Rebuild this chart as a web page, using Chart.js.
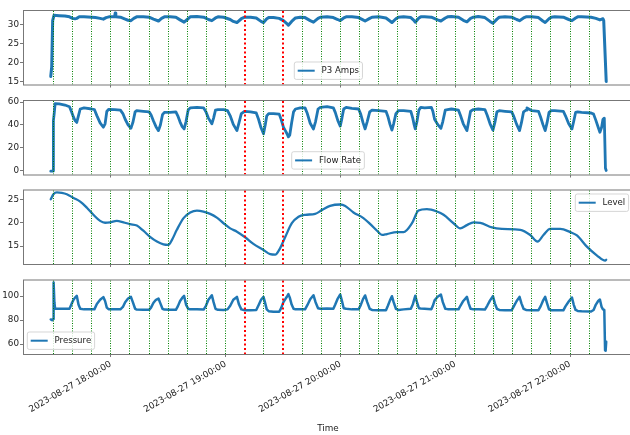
<!DOCTYPE html>
<html>
<head>
<meta charset="utf-8">
<title>Pump P3 trend</title>
<script src="https://cdn.jsdelivr.net/npm/chart.js@4/dist/chart.umd.min.js"></script>
<style>
  html, body { margin: 0; padding: 0; background: #fff; overflow: hidden; }
  #wrap { position: relative; width: 630px; height: 435px; overflow: hidden; background: #fff; }
  #wrap canvas { position: absolute; left: 0; top: 0; }
</style>
</head>
<body>
<div id="wrap">
  <canvas id="amps" width="640" height="435"></canvas>
  <canvas id="flow" width="640" height="435"></canvas>
  <canvas id="level" width="640" height="435"></canvas>
  <canvas id="pressure" width="640" height="435"></canvas>
</div>
<script>
// Time is expressed in minutes after 17:00 on 2023-08-27.
const hourTicks = [60, 120, 180, 240, 300];
const hourLabels = ['2023-08-27 18:00:00', '2023-08-27 19:00:00', '2023-08-27 20:00:00',
                    '2023-08-27 21:00:00', '2023-08-27 22:00:00'];

// 10-minute markers (green) and the two flagged instants (red)
const greenMarks = [30, 40, 50, 60, 70, 80, 90, 100, 110, 120, 140, 160, 170, 180, 190, 200,
                    210, 220, 230, 240, 250, 260, 270, 280, 290, 300, 310];
const redMarks = [130, 150];

// P3 Amps
const ampsTime = [28.6, 29.1, 29.6, 30.3,
  33, 36, 38.4, 40.0, 41.3, 42.2, 43.5,
  46, 50, 52, 54.4, 56.1, 57.5, 59,
  62.0, 62.3, 62.6,
  65, 67.5, 69, 70.5, 72, 73.5,
  77, 80, 82.3, 84.9, 86.5, 88,
  91, 94, 96.2, 98.3, 100.4, 101.5,
  105, 108.5, 111, 112.8, 114.7, 116,
  119, 122.4, 124, 125.9, 128.2, 130,
  133, 136, 138.5, 139.8, 141.5, 142.5,
  145, 148, 150.2, 152, 152.8, 154.5, 156.5,
  159, 161.5, 164.2, 165.9, 168.3, 169.5,
  173, 176.3, 178.6, 179.9, 181.7, 183,
  186, 189.5, 191.8, 192.9, 195.3, 196.5,
  200, 203.8, 205.9, 206.9, 209, 210.3,
  213, 216.8, 218.4, 219.1, 221, 222,
  224, 227.5, 230.8, 232.5, 234.8, 236,
  238, 241.7, 244.2, 246.1, 248, 249.5,
  252, 255.5, 258.2, 259.7, 261.8, 263,
  266, 269.5, 272.1, 273.6, 275.7, 277,
  280, 283.5, 285.8, 287, 289, 290.2,
  292, 296.5, 299.3, 301, 302.9, 304,
  306, 311, 313.5, 315.6, 317.2, 317.6, 318.9];
const ampsValue = [16.3, 18.8, 31.0, 32.4,
  32.3, 32.2, 32.0, 31.6, 31.5, 31.6, 32.0,
  32.0, 31.9, 31.8, 31.6, 31.4, 31.8, 32.0,
  32.0, 33.0, 32.0,
  31.9, 31.4, 31.1, 31.0, 31.6, 32.0,
  32.0, 31.9, 31.4, 30.9, 31.6, 32.0,
  32.0, 31.9, 31.2, 30.6, 31.5, 32.0,
  32.1, 31.9, 31.3, 31.0, 31.7, 32.0,
  31.9, 31.3, 30.8, 30.5, 31.5, 31.9,
  31.9, 31.7, 30.8, 30.5, 31.5, 31.8,
  31.8, 31.6, 31.0, 30.2, 29.8, 30.8, 31.7,
  31.9, 31.8, 31.0, 30.6, 31.6, 31.9,
  32.0, 31.8, 31.3, 31.0, 31.7, 32.0,
  32.0, 31.8, 31.2, 30.9, 31.6, 31.9,
  32.0, 31.7, 30.9, 30.5, 31.5, 31.9,
  32.0, 31.8, 31.1, 30.6, 31.7, 32.0,
  32.0, 31.9, 31.2, 30.9, 31.7, 32.0,
  32.1, 31.9, 31.1, 30.7, 31.6, 31.9,
  32.1, 31.8, 30.8, 30.3, 31.4, 31.9,
  32.0, 31.9, 31.3, 31.0, 31.7, 32.0,
  32.0, 31.8, 30.9, 30.5, 31.5, 31.9,
  32.0, 31.9, 31.3, 31.0, 31.7, 32.0,
  32.0, 31.9, 31.6, 31.2, 31.5, 31.0, 15.0];

// Flow Rate
const flowTime = [28.6, 29.8, 30.0, 30.4, 30.9, 33, 36, 38.4, 39.6, 40.5, 41.3, 42.2, 43.1, 44.0,
  46, 50, 51.4, 52.7, 54.4, 56.1, 57.0, 57.9, 58.8,
  62, 65, 66.3, 67.5, 69, 70.5, 71.5, 72.7, 73.5,
  77, 80, 81, 82.3, 83.6, 84.9, 85.9, 87, 88,
  91, 94, 95, 96.2, 97.3, 98.3, 99.3, 100.4, 101.5,
  105, 108.5, 109.7, 111, 112.8, 113.7, 114.7, 116,
  119, 121, 122.4, 124, 125.9, 127, 128.2, 130,
  133, 136, 137.2, 138.5, 139.8, 140.7, 141.5, 142.5,
  145, 148, 149, 150.2, 151.2, 152, 152.8, 153.5, 154.5, 155.5, 156.5,
  159, 161.5, 162.7, 164.2, 165.9, 167, 168.3, 169.5,
  173, 176.3, 177.3, 178.6, 179.9, 180.8, 181.7, 183,
  186, 189.5, 190.6, 191.8, 192.9, 194, 195.3, 196.5,
  200, 203.8, 204.8, 205.9, 206.9, 207.8, 209, 210.3,
  213, 216.8, 217.8, 218.4, 219.1, 220, 221, 222,
  224, 227.5, 228.3, 229.2, 230.8, 232.5, 233.5, 234.8, 236,
  238, 241.7, 242.7, 244.2, 246.1, 247, 248, 249.5,
  252, 255.5, 256.7, 258.2, 259.7, 260.7, 261.8, 263,
  266, 269.5, 270.6, 272.1, 273.6, 274.6, 275.7, 277,
  277.5, 280, 283.5, 284.6, 285.8, 287, 288, 289, 290.2,
  292, 296.5, 297.6, 299.3, 301, 301.9, 302.9, 304,
  306, 311, 312.3, 313.5, 314.7, 315.6, 316.5, 317.2, 317.9, 318.5, 318.9];
const flowValue = [-0.6, -0.5, 44, 50, 58.8, 58.5, 57.5, 56, 51, 46.8, 43.9, 42.2, 48.2, 54,
  55, 54, 53.5, 48.2, 41.8, 38, 41, 51.8, 53.6,
  53.5, 53, 50, 45, 40, 37.1, 42, 51.5, 52.5,
  52, 51.5, 49, 43.5, 38.5, 35, 40, 49, 51,
  51, 51.5, 48, 42.5, 38.5, 36.5, 43, 53, 55,
  55.5, 55, 51.5, 46, 41, 46, 53, 53.5,
  53.5, 52.5, 48, 40.5, 35, 42, 50, 52,
  51.5, 50.5, 45, 37.5, 32.2, 40, 48, 50,
  50, 49.5, 45, 38, 35, 32.5, 29.5, 31, 42, 51.5, 54,
  55, 55, 50, 41.5, 36.5, 43, 54, 55.5,
  56, 55, 51, 44, 39, 46, 54, 55.5,
  54.5, 54, 49.5, 42, 36.5, 43, 51.5, 53,
  52.5, 52, 47.5, 40.5, 35.5, 41, 50, 52.5,
  52.5, 52, 46, 41, 36.5, 43, 53, 55.5,
  55, 55.5, 52, 45, 40.5, 37, 43, 53, 53.5,
  54, 53, 48.5, 41, 35, 43, 52, 53.5,
  54, 53.5, 48.5, 41, 35.5, 42, 51.5, 52.5,
  52, 51.5, 47.5, 40.5, 35, 42, 51.5, 53,
  55, 52.5, 52, 47, 40.5, 35, 42, 51, 52.5,
  52.5, 52, 48, 41, 36.5, 43, 51, 51.5,
  51, 50.5, 49.5, 44, 38, 33.6, 38, 45, 46, 2, 0];

// Level
const levelTime = [28.6, 30.0, 31.8, 34.4, 37.0, 40.5, 44.0, 47.5, 50.9, 54.4,
  57.0, 59.6, 63.1, 66.6, 70.1, 73.6, 77.0, 80.5, 84.1, 87.5,
  90.1, 91.9, 94.5, 98.0, 101.5, 105.0, 108.4, 111.9, 115.4, 118.9,
  122.4, 125.9, 130.2, 134.5, 139.8, 143.3, 145.9, 148.5, 151.2, 154.6,
  158.1, 161.6, 166.8, 170.3, 174.6, 179.9, 182.5, 186.8, 192.0, 195.6,
  199.1, 201.7, 204.3, 209.5, 213.0, 217.4, 220.8, 225.2, 230.4, 233.9,
  239.1, 242.6, 246.1, 249.6, 253.1, 259.2, 264.4, 274.0, 279.2, 283.0,
  286.1, 289.6, 294.9, 300.1, 303.6, 308.8, 314.1, 318.4, 318.9];
const levelValue = [25.0, 26.1, 26.5, 26.4, 26.1, 25.3, 24.5, 23.2, 21.7, 20.4,
  20.0, 20.1, 20.4, 20.1, 19.7, 19.4, 18.3, 17.0, 16.0, 15.4,
  15.3, 16.3, 18.5, 21.0, 22.2, 22.6, 22.4, 21.9, 21.1, 19.9,
  18.8, 18.1, 16.9, 15.5, 14.2, 13.3, 13.2, 14.6, 17.0, 19.9,
  21.3, 21.7, 21.9, 22.7, 23.6, 23.9, 23.6, 22.2, 21.0, 19.7,
  18.3, 17.4, 17.6, 18.0, 18.0, 19.9, 22.6, 22.9, 22.4, 21.7,
  19.9, 18.8, 19.5, 20.1, 20.0, 19.0, 18.7, 18.5, 17.4, 16.0,
  17.4, 18.7, 18.7, 18.0, 17.3, 14.9, 13.0, 11.9, 12.1];

// Pressure
const pressureTime = [28.6, 29.3, 29.8, 30.1, 30.5, 30.9, 35, 38.4, 39.6, 40.5, 41.3, 42.2, 43.1, 44.0,
  46, 50, 51.4, 52.7, 54.4, 56.1, 57.0, 57.9, 58.8,
  62, 65, 66.3, 67.5, 69, 70.5, 71.5, 72.7, 73.5,
  77, 80, 81, 82.3, 83.6, 84.9, 85.9, 87, 88,
  91, 94, 95, 96.2, 97.3, 98.3, 99.3, 100.4, 101.5,
  105, 108.5, 109.7, 111, 112.8, 113.7, 114.7, 116,
  119, 121, 122.4, 124, 125.9, 127, 128.2, 130,
  133, 136, 137.2, 138.5, 139.8, 140.7, 141.5, 142.5,
  145, 148, 149, 150.2, 151.2, 152, 152.8, 153.5, 154.5, 155.5, 156.5,
  159, 161.5, 162.7, 164.2, 165.9, 167, 168.3, 169.5,
  173, 176.3, 177.3, 178.6, 179.9, 180.8, 181.7, 183,
  186, 189.5, 190.6, 191.8, 192.9, 194, 195.3, 196.5,
  200, 203.8, 204.8, 205.9, 206.9, 207.8, 209, 210.3,
  213, 216.8, 217.8, 218.4, 219.1, 220, 221, 222,
  224, 227.5, 228.3, 229.2, 230.8, 232.5, 233.5, 234.8, 236,
  238, 241.7, 242.7, 244.2, 246.1, 247, 248, 249.5,
  252, 255.5, 256.7, 258.2, 259.7, 260.7, 261.8, 263,
  266, 269.5, 270.6, 272.1, 273.6, 274.6, 275.7, 277,
  280, 283.5, 284.6, 285.8, 287, 288, 289, 290.2,
  292, 296.5, 297.6, 299.3, 301, 301.9, 302.9, 304,
  306, 311, 312.3, 313.5, 314.7, 315.6, 316.5, 317.2, 317.9, 318.3, 318.6, 318.9];
const pressureValue = [80.6, 80.0, 81, 111.5, 95, 89.5, 89.5, 89.5, 94, 97, 98.8, 100.3, 93, 89.5,
  89, 89, 89, 93.5, 97, 99.2, 96, 90.5, 89.2,
  89, 89, 91, 95, 98, 99.4, 95, 89.5, 88.8,
  88.6, 88.6, 90.5, 94.5, 97, 98, 94, 89.5, 88.8,
  88.6, 88.6, 91.5, 96, 98.5, 100.2, 93, 89.5, 89,
  89, 88.8, 92, 97, 100.8, 95, 89.5, 88.6,
  88.5, 89, 92, 97, 99.4, 93, 89, 88.3,
  88.3, 88.5, 92.5, 97, 99.4, 94, 89, 87.5,
  87, 87, 90, 95, 97.5, 99.5, 101.7, 99, 93, 89.5, 89,
  89, 89, 92.5, 97.5, 100.8, 95, 90, 89.5,
  89.7, 89.5, 93, 98, 101.4, 96, 90, 89.5,
  89, 89, 92.5, 97.5, 100.6, 95, 89.5, 88.5,
  88.3, 88.3, 92, 96.5, 100, 95, 89.5, 88.5,
  89, 89.5, 93, 96.5, 100.3, 95, 90, 89.7,
  89.5, 89.2, 92, 96.5, 99.5, 101.4, 95, 89.5, 89.2,
  89.2, 89, 92, 96, 99.4, 94, 89.5, 89,
  89, 88.8, 92, 96.5, 100, 94, 89.5, 88.5,
  88.3, 88.3, 91.5, 96, 99.4, 94, 89.5, 88.5,
  88.3, 88.3, 91.5, 96, 99.4, 94, 89, 88.3,
  88.2, 88.2, 91.5, 95.5, 98.9, 93, 88.5, 87.7,
  87.5, 87.2, 88.5, 93, 96, 97.2, 91, 89, 88.5, 55, 54.5, 62];

// y-axis tick values per panel
const ampsTicks = [15, 20, 25, 30];
const flowTicks = [0, 20, 40, 60];
const levelTicks = [15, 20, 25];
const pressureTicks = [60, 80, 100];

const BLUE = '#1f77b4';
const AXIS = '#777777';
const TEXT = '#222222';
const FONT = 'DejaVu Sans';
const TICK_SIZE = 8.8;
const X_MIN = 14.1, X_MAX = 332.9;
const PLOT_LEFT = 23, PLOT_RIGHT = 633, CANVAS_W = 640, CANVAS_H = 435;

Chart.defaults.font.family = FONT;
Chart.defaults.font.size = TICK_SIZE;

// Frame, time markers and an in-axes legend for each panel
const panelPlugin = {
  id: 'panel',
  afterDatasetsDraw(chart, args, opts) {
    const { ctx, chartArea: a } = chart;
    const xs = chart.scales.x;

    ctx.save();
    ctx.beginPath();
    ctx.rect(a.left, a.top, a.right - a.left, a.bottom - a.top);
    ctx.clip();
    const vlines = (list, color, width, dash) => {
      ctx.strokeStyle = color;
      ctx.lineWidth = width;
      ctx.setLineDash(dash);
      list.forEach(t => {
        const raw = xs.getPixelForValue(t);
        const px = width % 2 === 1 ? Math.floor(raw) + 0.5 : Math.round(raw);
        ctx.beginPath();
        ctx.moveTo(px, a.top + 1);
        ctx.lineTo(px, a.bottom);
        ctx.stroke();
      });
    };
    vlines(greenMarks, '#008000', 1, [1, 1.5]);
    vlines(redMarks, '#ff0000', 2, [2, 2.5]);
    ctx.restore();

    ctx.save();
    ctx.strokeStyle = AXIS;
    ctx.lineWidth = 1;
    ctx.strokeRect(a.left + 0.5, a.top + 0.5, a.right - a.left, a.bottom - a.top);
    ctx.restore();

    const ds = chart.data.datasets[0];
    ctx.save();
    ctx.font = '8.6px "' + FONT + '"';
    const tw = ctx.measureText(ds.label).width;
    const [bx, by] = opts.at;
    const w = 3.4 + 17 + 6.8 + tw + 3.4, h = 17.4, r = 2;
    ctx.beginPath();
    ctx.moveTo(bx + r, by);
    ctx.arcTo(bx + w, by, bx + w, by + h, r);
    ctx.arcTo(bx + w, by + h, bx, by + h, r);
    ctx.arcTo(bx, by + h, bx, by, r);
    ctx.arcTo(bx, by, bx + w, by, r);
    ctx.closePath();
    ctx.fillStyle = 'rgba(255,255,255,0.8)';
    ctx.fill();
    ctx.strokeStyle = 'rgba(204,204,204,0.8)';
    ctx.lineWidth = 1;
    ctx.stroke();
    const cy = by + h / 2;
    ctx.strokeStyle = BLUE;
    ctx.lineWidth = 2;
    ctx.beginPath();
    ctx.moveTo(bx + 3.4, cy);
    ctx.lineTo(bx + 3.4 + 17, cy);
    ctx.stroke();
    ctx.fillStyle = TEXT;
    ctx.textBaseline = 'middle';
    ctx.textAlign = 'left';
    ctx.fillText(ds.label, bx + 3.4 + 17 + 6.8, cy + 0.5);
    ctx.restore();
  }
};

function makePanel(id, p) {
  const xAxisH = p.last ? 81.5 : 4;
  return new Chart(document.getElementById(id), {
    type: 'line',
    data: {
      datasets: [{
        label: p.label,
        data: p.time.map((t, i) => ({ x: t, y: p.value[i] })),
        borderColor: BLUE,
        backgroundColor: BLUE,
        borderWidth: p.width,
        pointRadius: 0,
        fill: false,
        tension: p.smooth ? 0.4 : 0,
        cubicInterpolationMode: p.smooth ? 'monotone' : 'default',
        borderJoinStyle: 'round',
        borderCapStyle: 'round'
      }]
    },
    options: {
      responsive: false,
      animation: false,
      events: [],
      layout: {
        padding: { top: p.top, bottom: CANVAS_H - p.bottom - xAxisH, left: 0, right: CANVAS_W - PLOT_RIGHT }
      },
      plugins: {
        legend: { display: false },
        tooltip: { enabled: false },
        panel: { at: p.legendAt }
      },
      scales: {
        x: {
          type: 'linear',
          min: X_MIN,
          max: X_MAX,
          afterFit: s => { s.height = xAxisH; },
          afterBuildTicks: s => { s.ticks = hourTicks.map(v => ({ value: v })); },
          border: { display: false },
          grid: { drawOnChartArea: false, drawTicks: true, tickLength: 3, tickColor: AXIS, lineWidth: 1 },
          ticks: {
            display: p.last,
            autoSkip: false,
            minRotation: 30,
            maxRotation: 30,
            padding: 2,
            color: TEXT,
            font: { size: TICK_SIZE, family: FONT },
            callback: v => hourLabels[hourTicks.indexOf(v)]
          },
          title: {
            display: p.last,
            text: 'Time',
            color: TEXT,
            font: { size: TICK_SIZE, family: FONT },
            padding: { top: 0, bottom: 2 }
          }
        },
        y: {
          type: 'linear',
          min: p.yMin,
          max: p.yMax,
          afterFit: s => { s.width = PLOT_LEFT; },
          afterBuildTicks: s => { s.ticks = p.ticks.map(v => ({ value: v })); },
          border: { display: false },
          grid: { drawOnChartArea: false, drawTicks: true, tickLength: 3, tickColor: AXIS, lineWidth: 1 },
          ticks: { padding: 1, color: TEXT, font: { size: TICK_SIZE, family: FONT } }
        }
      }
    },
    plugins: [panelPlugin]
  });
}

makePanel('amps', {
  label: 'P3 Amps', time: ampsTime, value: ampsValue, width: 3,
  top: 10, bottom: 84.5, yMin: 14.2, yMax: 33.8, ticks: ampsTicks, legendAt: [294.3, 62]
});
makePanel('flow', {
  label: 'Flow Rate', time: flowTime, value: flowValue, width: 2.8,
  top: 100, bottom: 174.5, yMin: -3.5, yMax: 61.9, ticks: flowTicks, legendAt: [291.7, 151.7]
});
makePanel('level', {
  label: 'Level', time: levelTime, value: levelValue, width: 2.3, smooth: true,
  top: 189.5, bottom: 264, yMin: 11.2, yMax: 27.1, ticks: levelTicks, legendAt: [575.3, 194]
});
makePanel('pressure', {
  label: 'Pressure', time: pressureTime, value: pressureValue, width: 2.5,
  top: 279.5, bottom: 354, yMin: 51.8, yMax: 113.9, ticks: pressureTicks, legendAt: [27.3, 332], last: true
});
</script>
</body>
</html>
